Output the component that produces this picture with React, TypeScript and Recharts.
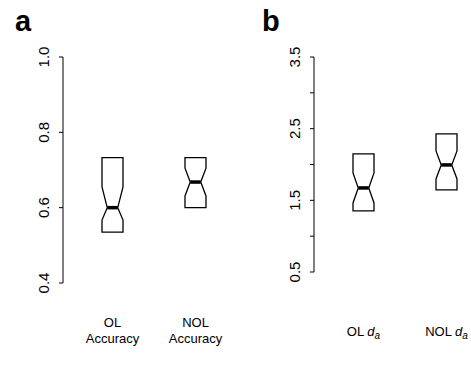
import React from "react";
import { ComposedChart, Bar, XAxis, YAxis } from "recharts";

const FONT = "'Liberation Sans', Arial, Helvetica, sans-serif";

// panel a: accuracy
const accLabels = [["OL", "Accuracy"], ["NOL", "Accuracy"]];
const accQ1 = [0.535, 0.6];
const accQ3 = [0.733, 0.733];
const accMed = [0.6, 0.668];
const accNotchLo = [0.567, 0.631];
const accNotchHi = [0.655, 0.705];
const accTicks = [0.4, 0.6, 0.8, 1.0];

// panel b: d_a
const daLabels = ["OL", "NOL"];
const daQ1 = [1.352, 1.645];
const daQ3 = [2.147, 2.426];
const daMed = [1.673, 1.994];
const daNotchLo = [1.464, 1.798];
const daNotchHi = [1.882, 2.189];
const daTicks = [0.5, 1.0, 1.5, 2.0, 2.5, 3.0, 3.5];
const daLabelled = [0.5, 1.5, 2.5, 3.5];

const accData = accQ1.map((q1, i) => ({
  pos: i + 1,
  q1,
  q3: accQ3[i],
  med: accMed[i],
  lo: accNotchLo[i],
  hi: accNotchHi[i],
}));

const daData = daQ1.map((q1, i) => ({
  pos: i + 1,
  q1,
  q3: daQ3[i],
  med: daMed[i],
  lo: daNotchLo[i],
  hi: daNotchHi[i],
}));

function NotchedBox(props: any) {
  const { x, y, width, height, payload } = props;
  const top = Math.min(y, y + height);
  const h = Math.abs(height);
  const { q1, q3, med, lo, hi } = payload;
  // value -> pixel, from the bar's own q1..q3 extent
  const toPx = (v: number) => top + ((q3 - v) / (q3 - q1)) * h;
  const inset = width / 4;
  const right = x + width;
  const yHi = toPx(hi);
  const yMed = toPx(med);
  const yLo = toPx(lo);
  const yBot = top + h;
  const d =
    `M${x},${top} L${right},${top} L${right},${yHi} L${right - inset},${yMed} ` +
    `L${right},${yLo} L${right},${yBot} L${x},${yBot} L${x},${yLo} ` +
    `L${x + inset},${yMed} L${x},${yHi} Z`;
  return (
    <g>
      <path d={d} fill="none" stroke="#000" strokeWidth={1.3} />
      <line x1={x + inset} x2={right - inset} y1={yMed} y2={yMed} stroke="#000" strokeWidth={3.5} />
    </g>
  );
}

function makeYTick(labelled: number[] | null) {
  return (props: any) => {
    const { x, y, payload } = props;
    if (labelled && !labelled.includes(payload.value)) return <g />;
    return (
      <text
        x={x}
        y={y}
        transform={`rotate(-90, ${x}, ${y})`}
        textAnchor="middle"
        fontSize={15}
        fontFamily={FONT}
        fill="#000"
      >
        {payload.value.toFixed(1)}
      </text>
    );
  };
}

function AccTick(props: any) {
  const { x, y, payload } = props;
  const lines = accLabels[payload.value - 1] ?? [];
  return (
    <text x={x} y={y} textAnchor="middle" fontSize={13} fontFamily={FONT} fill="#000">
      {lines.map((l, i) => (
        <tspan key={i} x={x} y={y + 44 + i * 16}>
          {l}
        </tspan>
      ))}
    </text>
  );
}

function DaTick(props: any) {
  const { x, y, payload } = props;
  const name = daLabels[payload.value - 1] ?? "";
  return (
    <text x={x} y={y + 64} textAnchor="middle" fontSize={13} fontFamily={FONT} fill="#000">
      <tspan>{name} </tspan>
      <tspan fontStyle="italic">d</tspan>
      <tspan fontStyle="italic" fontSize={10} dy={3}>
        a
      </tspan>
    </text>
  );
}

const letterStyle: React.CSSProperties = {
  position: "absolute",
  fontFamily: FONT,
  fontWeight: "bold",
  fontSize: 29,
  lineHeight: 1,
  color: "#000",
};

export default function App() {
  return (
    <div style={{ position: "absolute", left: 0, top: 0, width: 471, height: 365, background: "#fff", overflow: "hidden" }}>
      <div style={{ ...letterStyle, left: 15, top: 7 }}>a</div>
      <div style={{ ...letterStyle, left: 262, top: 7 }}>b</div>

      <div style={{ position: "absolute", left: 0, top: 0 }}>
        <ComposedChart width={240} height={365} data={accData} margin={{ top: 57, right: 3, left: 0, bottom: 22 }}>
          <XAxis
            type="number"
            dataKey="pos"
            domain={[0.4036, 2.5]}
            allowDataOverflow
            ticks={[1, 2]}
            axisLine={false}
            tickLine={false}
            tickSize={0}
            tickMargin={0}
            height={60}
            tick={AccTick}
          />
          <YAxis
            type="number"
            domain={[0.4, 1.0]}
            ticks={accTicks}
            width={63}
            tickSize={4}
            tickMargin={10}
            axisLine={{ stroke: "#000", strokeWidth: 1 }}
            tickLine={{ stroke: "#000", strokeWidth: 1 }}
            tick={makeYTick(null)}
          />
          <Bar dataKey={(d: any) => [d.q1, d.q3]} barSize={21} shape={NotchedBox} isAnimationActive={false} />
        </ComposedChart>
      </div>

      <div style={{ position: "absolute", left: 240, top: 0 }}>
        <ComposedChart width={231} height={365} data={daData} margin={{ top: 57, right: 0, left: 0, bottom: 33 }}>
          <XAxis
            type="number"
            dataKey="pos"
            domain={[0.4036, 2.295]}
            allowDataOverflow
            ticks={[1, 2]}
            axisLine={false}
            tickLine={false}
            tickSize={0}
            tickMargin={0}
            height={60}
            tick={DaTick}
          />
          <YAxis
            type="number"
            domain={[0.5, 3.5]}
            ticks={daTicks}
            width={74}
            tickSize={4}
            tickMargin={10}
            axisLine={{ stroke: "#000", strokeWidth: 1 }}
            tickLine={{ stroke: "#000", strokeWidth: 1 }}
            tick={makeYTick(daLabelled)}
          />
          <Bar dataKey={(d: any) => [d.q1, d.q3]} barSize={21} shape={NotchedBox} isAnimationActive={false} />
        </ComposedChart>
      </div>
    </div>
  );
}
